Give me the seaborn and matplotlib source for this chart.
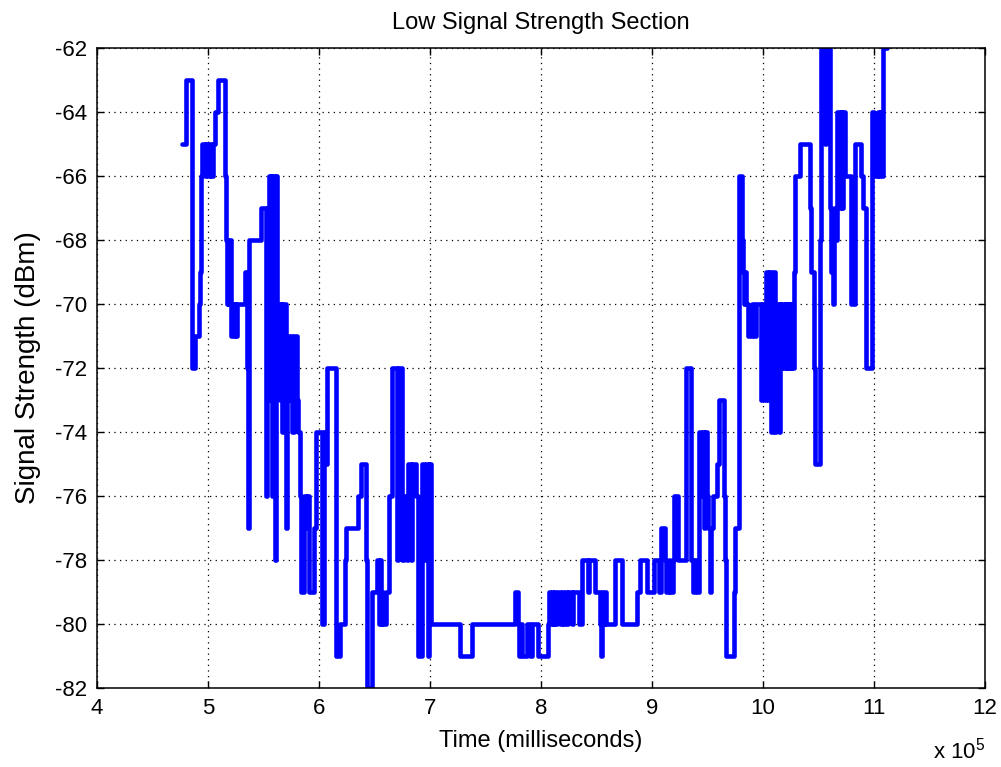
import matplotlib
matplotlib.use("Agg")
import matplotlib.pyplot as plt
import pandas as pd
import seaborn as sns
from matplotlib.ticker import FixedLocator, FuncFormatter

# Received signal strength log: step changes (time in ms, level in dBm)
time_ms = [
    477000, 480000, 485500, 488500, 491500, 492500, 493500, 494500, 497000, 498500,
    500000, 501500, 503000, 504500, 506000, 509000, 515000, 516000, 516800, 517600,
    518400, 519200, 520500, 522000, 523000, 524000, 525500, 526500, 533000, 535500,
    536200, 537200, 548000, 552000, 553000, 555000, 556000, 556500, 558000, 559000,
    560000, 561500, 562500, 563000, 564500, 565500, 566500, 568000, 570000, 571500,
    573000, 574500, 576000, 577500, 580000, 581500, 583000, 584000, 586500, 588000,
    589500, 591000, 595500, 597000, 603000, 604500, 606000, 607000,
    615000, 615500, 619000, 623000, 624500, 635000, 638000, 642500, 643500, 647500,
    652500, 654000, 655000, 656000, 657000, 658000, 660000, 663000, 666000, 670000,
    671000, 674500, 677000, 679500, 680000, 683000, 684000, 687500, 689000, 693000,
    695000, 696000, 698500, 699500, 701000, 727000, 737500,
    776500, 779500, 780500, 781500, 782500, 787000, 790000, 791500, 797500, 806600,
    807500, 808500, 809500, 810500, 811500, 813000, 814000, 817000, 818500, 820000,
    821500, 823000, 824000, 828000, 829000, 834000, 837000, 842000, 843000, 849000,
    853000, 854000, 855000, 856000, 857500, 859000, 867000, 873000, 886500, 889000,
    895500, 901500,
    906000, 908500, 912000, 913000, 915000, 916500, 918500, 919500, 923000, 931000,
    935000, 937000, 939000, 940500, 942000, 944500, 945500, 946500, 947500, 949500,
    950500, 952000, 953500, 955000, 958500, 960500, 965000, 966000, 967000, 974000,
    975000,
    978000, 981000, 982000, 983000, 984000, 985000, 986500, 990500, 992000, 993500,
    998500, 999500, 1001000, 1003000, 1004500, 1005500, 1007500, 1009000, 1010500, 1012000,
    1014000, 1015000, 1016500, 1017500, 1018500, 1019500, 1020500, 1021500, 1022500, 1023500,
    1024500, 1025500, 1026500, 1027500, 1028500, 1033000, 1042000, 1043000, 1045500, 1047000,
    1051000, 1052000, 1055500, 1057000, 1060000, 1061500, 1063000, 1064000, 1065500, 1067000,
    1069000, 1070000, 1071500, 1072500, 1073500, 1079000, 1082500, 1088000, 1090000, 1092500,
    1098500, 1100000, 1103500, 1104500, 1105500, 1107000, 1108500, 1110500, 1112000,
]
signal_dbm = [
    -65, -63, -72, -71, -70, -69, -66, -65, -66, -65,
    -66, -65, -66, -65, -64, -63, -66, -68, -70, -68,
    -70, -68, -71, -70, -71, -70, -71, -70, -69, -72,
    -77, -68, -67, -76, -67, -66, -73, -66, -76, -66,
    -78, -66, -72, -70, -73, -70, -74, -70, -77, -71,
    -73, -71, -74, -71, -73, -74, -76, -79, -76, -77,
    -76, -79, -77, -74, -80, -74, -75, -72,
    -76, -81, -80, -78, -77, -76, -75, -78, -82, -79,
    -78, -80, -78, -80, -79, -80, -79, -76, -72, -78,
    -72, -78, -76, -78, -75, -78, -75, -76, -81, -75,
    -78, -75, -81, -75, -80, -81, -80,
    -79, -80, -81, -80, -81, -80, -81, -80, -81, -80,
    -79, -80, -79, -80, -79, -80, -79, -80, -79, -80,
    -79, -80, -79, -80, -79, -80, -78, -79, -78, -79,
    -80, -81, -79, -80, -79, -80, -78, -80, -79, -78,
    -79, -78,
    -79, -77, -78, -79, -78, -79, -78, -76, -78, -72,
    -78, -79, -78, -79, -74, -76, -74, -77, -74, -76,
    -77, -79, -77, -76, -75, -73, -76, -78, -81, -79,
    -77,
    -66, -68, -69, -70, -69, -70, -71, -70, -71, -70,
    -73, -70, -73, -69, -73, -69, -74, -69, -74, -70,
    -74, -70, -72, -70, -72, -70, -72, -70, -72, -70,
    -72, -70, -72, -69, -66, -65, -67, -69, -72, -75,
    -68, -62, -65, -62, -67, -69, -70, -67, -68, -64,
    -67, -64, -67, -64, -66, -70, -65, -66, -67, -72,
    -64, -66, -64, -66, -64, -66, -62, -62, -62,
]

x_tick_values = [400000, 500000, 600000, 700000, 800000, 900000, 1000000, 1100000, 1200000]
y_tick_values = [-82, -80, -78, -76, -74, -72, -70, -68, -66, -64, -62]

sns.set_theme(style="white")
plt.rcParams["font.family"] = ["Liberation Sans", "DejaVu Sans"]
plt.rcParams["mathtext.default"] = "regular"

W, H = 1001, 767
fig = plt.figure(figsize=(W / 100, H / 100), dpi=100, facecolor="white")
ax = fig.add_axes([97 / W, 1 - 688 / H, 888 / W, 640 / H])
ax.set_facecolor("white")

df = pd.DataFrame({"time": time_ms, "signal": signal_dbm})
sns.lineplot(data=df, x="time", y="signal", ax=ax, color="#0000ff",
             linewidth=3.3, drawstyle="steps-post", estimator=None,
             sort=False, legend=False)

ax.set_xlim(400000, 1200000)
ax.set_ylim(-82, -62)
ax.xaxis.set_major_locator(FixedLocator(x_tick_values))
ax.yaxis.set_major_locator(FixedLocator(y_tick_values))
ax.xaxis.set_major_formatter(FuncFormatter(lambda v, _: f"{v / 1e5:g}"))
ax.yaxis.set_major_formatter(FuncFormatter(lambda v, _: f"{v:g}"))

ax.grid(True, which="major", color="black", linestyle=(0, (1, 3.5)), linewidth=0.9)
ax.tick_params(direction="in", length=5, width=1, colors="black",
               top=True, right=True, bottom=True, left=True,
               labelsize=16, pad=7)

for side in ax.spines.values():
    side.set_visible(True)
    side.set_color("black")
    side.set_linewidth(1.1)

ax.set_title("Low Signal Strength Section", fontsize=17, pad=14, color="black")
ax.set_xlabel("Time (milliseconds)", fontsize=17, labelpad=8, color="black")
ax.set_ylabel("Signal Strength (dBm)", fontsize=20, labelpad=10, color="black")

fig.text(985 / W, 4 / H, "x 10$^{5}$", ha="right", va="bottom",
         fontsize=16, color="black")

fig.savefig("out.png", dpi=100, facecolor="white")
